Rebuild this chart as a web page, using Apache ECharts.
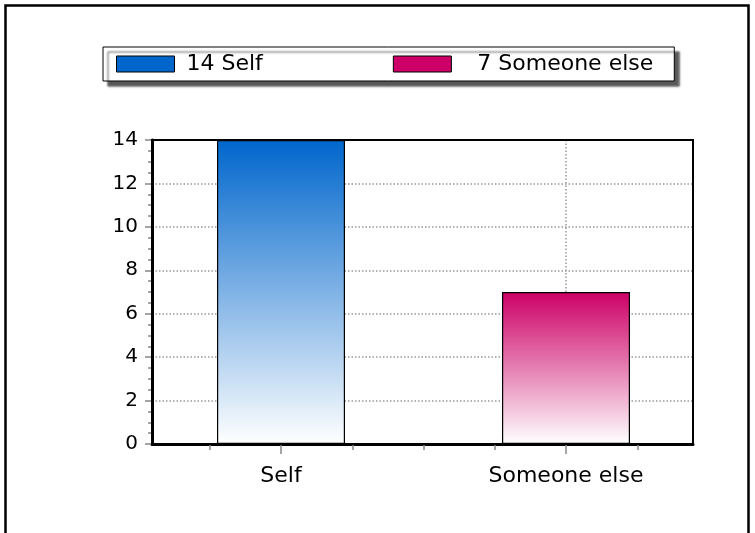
<!DOCTYPE html>
<html>
<head>
<meta charset="utf-8">
<script src="https://cdn.jsdelivr.net/npm/echarts@6/dist/echarts.min.js"></script>
<style>
html,body{margin:0;padding:0;background:#fff;}
#chart{width:755px;height:533px;}
</style>
</head>
<body>
<div id="chart"></div>
<script>
// ---- data ----
const categories = ['Self', 'Someone else'];
const values = [14, 7];
const yMin = 0;
const yMax = 14;
const yStep = 2;
const barTopColors = ['#0066CC', '#CC0066'];

const chart = echarts.init(document.getElementById('chart'), null, {renderer: 'canvas'});
const FONT = 'DejaVu Sans';
const LEGEND_FS = 22;
const maxDigits = Math.max.apply(null, values.map(v => String(v).length));

const series = categories.map((name, i) => ({
  name: name,
  type: 'bar',
  xAxisIndex: 1,
  yAxisIndex: 1,
  stack: 'all',
  barWidth: 128,
  data: categories.map((c, j) => (j === i ? values[j] : '-')),
  itemStyle: {
    color: new echarts.graphic.LinearGradient(0, 0, 0, 1, [
      {offset: 0, color: barTopColors[i]},
      {offset: 1, color: '#ffffff'}
    ]),
    borderColor: '#000',
    borderWidth: 1.2
  }
}));

const richNum = {};
for (let d = 1; d <= maxDigits; d++) {
  richNum['n' + d] = {
    fontFamily: FONT, fontSize: LEGEND_FS, color: '#000', lineHeight: 16,
    padding: [0, 0, 0, 7 + (maxDigits - d) * 0.636 * LEGEND_FS]
  };
}

const option = {
  animation: false,
  backgroundColor: '#fff',
  graphic: [{
    type: 'rect',
    shape: {x: 5.5, y: 5.5, width: 743, height: 600},
    style: {fill: 'none', stroke: '#000', lineWidth: 2.5},
    silent: true
  }],
  legend: {
    left: 103,
    top: 47,
    orient: 'horizontal',
    itemWidth: 58,
    itemHeight: 16,
    itemGap: 130,
    padding: [6, 21, 6, 13],
    backgroundColor: '#fff',
    borderColor: '#000',
    borderWidth: 1,
    shadowColor: 'rgba(0,0,0,0.65)',
    shadowBlur: 2,
    shadowOffsetX: 5,
    shadowOffsetY: 5,
    icon: 'rect',
    data: categories.map((c, i) => ({
      name: c,
      itemStyle: {color: barTopColors[i], borderColor: '#000', borderWidth: 1}
    })),
    formatter: function (name) {
      const i = categories.indexOf(name);
      const s = String(values[i]);
      return '{n' + s.length + '|' + s + '}{t| ' + name + '}';
    },
    textStyle: {
      fontFamily: FONT,
      fontSize: LEGEND_FS,
      color: '#000',
      lineHeight: 16,
      rich: Object.assign({
        t: {fontFamily: FONT, fontSize: LEGEND_FS, color: '#000', lineHeight: 16}
      }, richNum)
    }
  },
  grid: [
    {left: 152, right: 62, top: 140, bottom: 89, show: true, borderColor: '#000', borderWidth: 2, backgroundColor: 'transparent', z: 3},
    {left: 138.5, right: 46.5, top: 140, bottom: 89}
  ],
  xAxis: [
    { // frame bottom line
      gridIndex: 0, type: 'value', min: 0, max: 1, position: 'bottom',
      axisLine: {show: true, lineStyle: {color: '#000', width: 3}},
      axisTick: {show: false}, axisLabel: {show: false}, splitLine: {show: false}
    },
    { // categories
      gridIndex: 1, type: 'category', data: categories, position: 'bottom',
      axisLine: {show: false},
      axisTick: {show: true, alignWithLabel: true, length: 10, lineStyle: {color: '#888', width: 1.5}},
      axisLabel: {fontFamily: FONT, fontSize: 22, color: '#000', margin: 21},
      splitLine: {show: false}
    },
    { // vertical grid lines at category centres
      gridIndex: 1, type: 'value', min: 0.5, max: 2.5, position: 'bottom',
      axisLine: {show: false},
      axisTick: {show: false, customValues: [1, 2]},
      axisLabel: {show: false},
      splitLine: {show: true, lineStyle: {color: '#999', width: 1.5, type: [1.5, 2]}}
    },
    { // minor x ticks
      gridIndex: 1, type: 'value', min: 0.5, max: 2.5, position: 'bottom',
      axisLine: {show: false},
      axisTick: {show: true, length: 6, customValues: [0.75, 1.25, 1.5, 1.75, 2.25], lineStyle: {color: '#888', width: 1.5}},
      axisLabel: {show: false},
      splitLine: {show: false}
    }
  ],
  yAxis: [
    {
      gridIndex: 0, type: 'value', min: yMin, max: yMax, interval: yStep,
      axisLine: {show: true, lineStyle: {color: '#000', width: 3}},
      axisTick: {show: true, length: 7, lineStyle: {color: '#888', width: 1.5}},
      minorTick: {show: true, splitNumber: 4, length: 4, lineStyle: {color: '#888', width: 1.5}},
      axisLabel: {fontFamily: FONT, fontSize: 20, color: '#000', margin: 14},
      splitLine: {show: true, showMinLine: false, showMaxLine: false, lineStyle: {color: '#999', width: 1.5, type: [1.5, 2]}}
    },
    {
      gridIndex: 1, type: 'value', min: yMin, max: yMax, interval: yStep, show: false
    }
  ],
  series: series
};

chart.setOption(option);
</script>
</body>
</html>
